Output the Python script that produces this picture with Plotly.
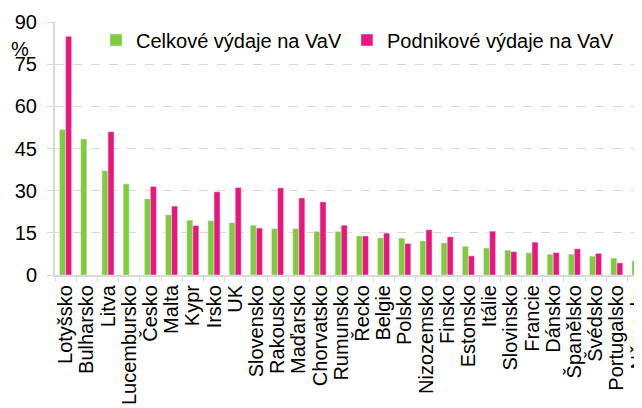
import plotly.graph_objects as go

categories = ["Lotyšsko", "Bulharsko", "Litva", "Lucembursko", "Česko", "Malta", "Kypr",
              "Irsko", "UK", "Slovensko", "Rakousko", "Maďarsko", "Chorvatsko", "Rumunsko",
              "Řecko", "Belgie", "Polsko", "Nizozemsko", "Finsko", "Estonsko", "Itálie",
              "Slovinsko", "Francie", "Dánsko", "Španělsko", "Švédsko", "Portugalsko", "Německo"]

celkove = [51.8, 48.4, 37.1, 32.4, 27.1, 21.4, 19.5, 19.3, 18.6, 17.7, 16.5, 16.5, 15.5, 15.5,
           13.9, 13.2, 13.1, 12.1, 11.4, 10.2, 9.6, 8.8, 7.9, 7.4, 7.4, 6.7, 6.0, 5.0]
podnikove = [84.9, None, 51.0, None, 31.5, 24.5, 17.6, 29.6, 31.1, 16.7, 31.0, 27.4, 26.0, 17.7,
             13.9, 14.9, 11.2, 16.1, 13.6, 6.8, 15.6, 8.3, 11.7, 8.0, 9.3, 7.7, 4.3, 5.4]

series_names = ["Celkové výdaje na VaV", "Podnikové výdaje na VaV"]
y_ticks = [0, 15, 30, 45, 60, 75, 90]

GREEN = "#7DCD3A"
PINK = "#E9177D"
FONT = "Liberation Sans, Arial, sans-serif"

fig = go.Figure()
fig.add_trace(go.Bar(x=categories, y=celkove, name=series_names[0], marker_color=GREEN))
fig.add_trace(go.Bar(x=categories, y=podnikove, name=series_names[1], marker_color=PINK))

# page body has an 8px margin, so figure coords = screen coords - 8
W, H = 642, 408
L, T = 47, 14
bottom = 267
B = H - bottom
plot_w = W - L
plot_h = bottom - T
step = 21.2
x_end = -0.5 + plot_w / step

fig.update_layout(
    width=W, height=H,
    margin=dict(l=L, r=0, t=T, b=B, pad=0, autoexpand=False),
    paper_bgcolor="white", plot_bgcolor="white",
    barmode="group", bargap=0.43, bargroupgap=0,
    font=dict(family=FONT, size=20, color="#000000"),
    showlegend=True,
    legend=dict(orientation="h", x=(88 - L) / plot_w, xanchor="left",
                y=(bottom - 32) / plot_h, yanchor="middle",
                bgcolor="rgba(0,0,0,0)", font=dict(size=20), itemwidth=30,
                traceorder="normal"),
    xaxis=dict(type="category", range=[-0.5, x_end], tickangle=-90,
               tickmode="array", tickvals=categories, ticktext=categories,
               tickson="boundaries", ticks="outside", ticklen=5, tickcolor="#d9d9d9",
               showline=True, linecolor="#d9d9d9", linewidth=2, showgrid=False,
               tickfont=dict(size=20), automargin=False),
    yaxis=dict(range=[0, 90], tickvals=y_ticks, ticks="outside", ticklen=6,
               tickcolor="#d9d9d9", showline=True, linecolor="#d9d9d9", linewidth=2,
               showgrid=True, gridcolor="#d9d9d9", griddash="dash", gridwidth=1,
               zeroline=False, tickfont=dict(size=20), ticklabelstandoff=6,
               automargin=False),
)

fig.add_annotation(text="%", xref="paper", yref="paper",
                   x=(12 - L) / plot_w, y=(bottom - 41) / plot_h,
                   xanchor="center", yanchor="middle", showarrow=False,
                   font=dict(size=20, family=FONT))

fig.write_html("out.html")
